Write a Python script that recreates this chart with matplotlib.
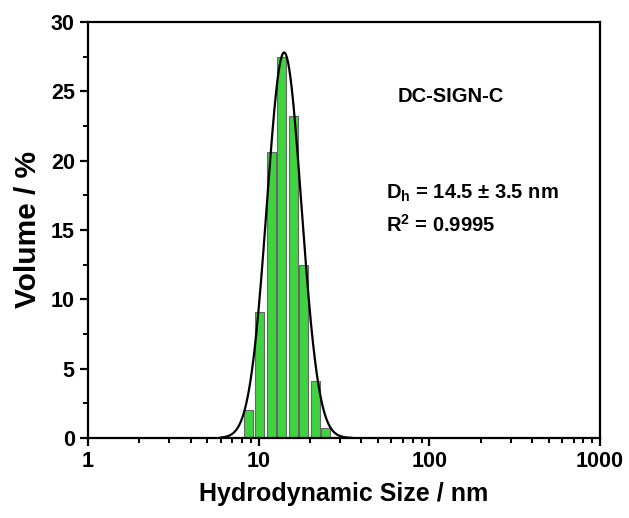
import numpy as np
import matplotlib
matplotlib.use("Agg")
import matplotlib.pyplot as plt
from matplotlib.ticker import FixedLocator, LogLocator, NullFormatter

plt.rcParams['font.family'] = ['Liberation Sans', 'DejaVu Sans']
plt.rcParams['font.weight'] = 'bold'
plt.rcParams['mathtext.fontset'] = 'custom'
plt.rcParams['mathtext.rm'] = 'Liberation Sans:bold'
plt.rcParams['mathtext.bf'] = 'Liberation Sans:bold'

# DATA ----------------------------------------------------------------------
size_nm = [8.75, 10.15, 11.84, 13.66, 15.9, 18.4, 21.4, 24.8]
volume_pct = [2.0, 9.1, 20.6, 27.5, 23.2, 12.5, 4.1, 0.7]

# log-normal fit parameters
fit_amp = 27.8
fit_center = 14.1
fit_sigma = 0.101   # decades

x_ticks = [1, 10, 100, 1000]
y_ticks = [0, 5, 10, 15, 20, 25, 30]

# PLOT ----------------------------------------------------------------------
fig = plt.figure(figsize=(6.29, 5.18), dpi=100)
ax = fig.add_axes([88 / 629, 80 / 518, 512 / 629, 416 / 518])

half = 0.0264  # half bar width in decades
c = np.array(size_nm)
lefts = c * 10 ** (-half)
widths = c * 10 ** half - lefts
ax.bar(lefts, volume_pct, width=widths, align='edge', color='#3fd33f',
       edgecolor='#666666', linewidth=0.8, zorder=2)

xf = np.logspace(np.log10(6), np.log10(35), 400)
yf = fit_amp * np.exp(-(np.log10(xf) - np.log10(fit_center)) ** 2 / (2 * fit_sigma ** 2))
ax.plot(xf, yf, color='black', lw=1.6, zorder=3)

ax.set_xscale('log')
ax.set_xlim(1, 1000)
ax.set_ylim(0, 30)
ax.xaxis.set_major_locator(FixedLocator(x_ticks))
ax.set_xticklabels([str(t) for t in x_ticks])
ax.xaxis.set_minor_locator(LogLocator(base=10, subs=np.arange(2, 10)))
ax.xaxis.set_minor_formatter(NullFormatter())
ax.set_yticks(y_ticks)
ax.set_yticks([2.5, 7.5, 12.5, 17.5, 22.5, 27.5], minor=True)

for s in ax.spines.values():
    s.set_linewidth(1.6)
ax.tick_params(which='major', direction='out', length=6, width=1.6,
               labelsize=15.5, top=False, right=False)
ax.tick_params(which='minor', direction='out', length=3.5, width=1.4,
               top=False, right=False)
for lab in ax.get_xticklabels() + ax.get_yticklabels():
    lab.set_fontweight('bold')

ax.set_xlabel('Hydrodynamic Size / nm', fontsize=18, fontweight='bold', labelpad=7)
ax.set_ylabel('Volume / %', fontsize=21.5, fontweight='bold', labelpad=6)

ax.text(451 / 629, 1 - 97 / 518, 'DC-SIGN-C', transform=fig.transFigure,
        ha='center', va='center', fontsize=14.5, fontweight='bold')
ax.text(386 / 629, 1 - 193 / 518, r'D$_\mathregular{h}$ = 14.5 ± 3.5 nm', transform=fig.transFigure,
        ha='left', va='center', fontsize=14.5, fontweight='bold')
ax.text(386 / 629, 1 - 225 / 518, r'R$^\mathregular{2}$ = 0.9995', transform=fig.transFigure,
        ha='left', va='center', fontsize=14.5, fontweight='bold')

fig.savefig('out.png', dpi=100)
